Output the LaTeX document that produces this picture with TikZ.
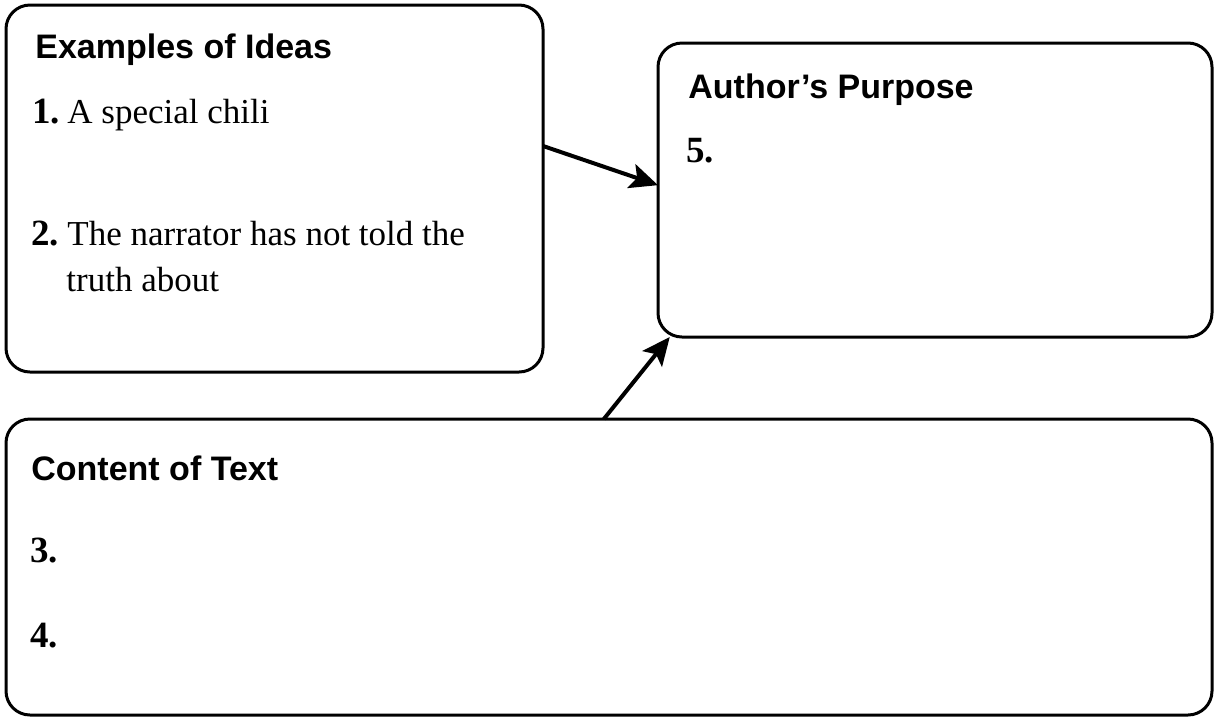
\documentclass[tikz,border=0pt]{standalone}
\usepackage{fontspec}
\setmainfont{Liberation Serif}
\newfontfamily\headfont{Liberation Sans}
\usetikzlibrary{arrows.meta}
\tikzset{
  x=0.5pt, y=-0.5pt,
  panel/.style={draw=black, line width=1.5pt, rounded corners=12pt, inner sep=0pt, outer sep=0pt, anchor=north west},
  head/.style={anchor=base west, inner sep=0pt, font=\headfont\bfseries\fontsize{17}{20}\selectfont},
  num/.style={anchor=base west, inner sep=0pt, font=\bfseries\fontsize{18.5}{22}\selectfont},
  body/.style={anchor=base west, inner sep=0pt, font=\fontsize{17.5}{21}\selectfont},
  link/.style={line width=2pt, -{Stealth[length=14pt, width=12.5pt, inset=3pt]}}
}
\begin{document}
\begin{tikzpicture}
\useasboundingbox (0,0) rectangle (1215,719);
% boxes
\node[panel, minimum width=268.5pt, minimum height=183.5pt] (ideas) at (6,5) {};
\node[panel, minimum width=277pt, minimum height=147pt] (purpose) at (658,43) {};
\node[panel, minimum width=603pt, minimum height=148pt] (content) at (6,419) {};
% texts
\node[head] (ideasT) at (35,58) {Examples of Ideas};
\node[num] (n1) at (32,123) {1.};
\node[body] (i1) at (67,123) {A special chili};
\node[num] (n2) at (31,245) {2.};
\node[body] (i2a) at (67,245) {The narrator has not told the};
\node[body] (i2b) at (66,291) {truth about};
\node[head] (purposeT) at (688,98) {Author’s Purpose};
\node[num] (n5) at (686,162) {5.};
\node[head] (contentT) at (31,480) {Content of Text};
\node[num] (n3) at (30,562) {3.};
\node[num] (n4) at (30,647) {4.};
% connectors
\draw[link] (ideas.9.8) -- (purpose.179.5);
\draw[link] (content.92.3) -- (purpose.209.7);
\end{tikzpicture}
\end{document}
